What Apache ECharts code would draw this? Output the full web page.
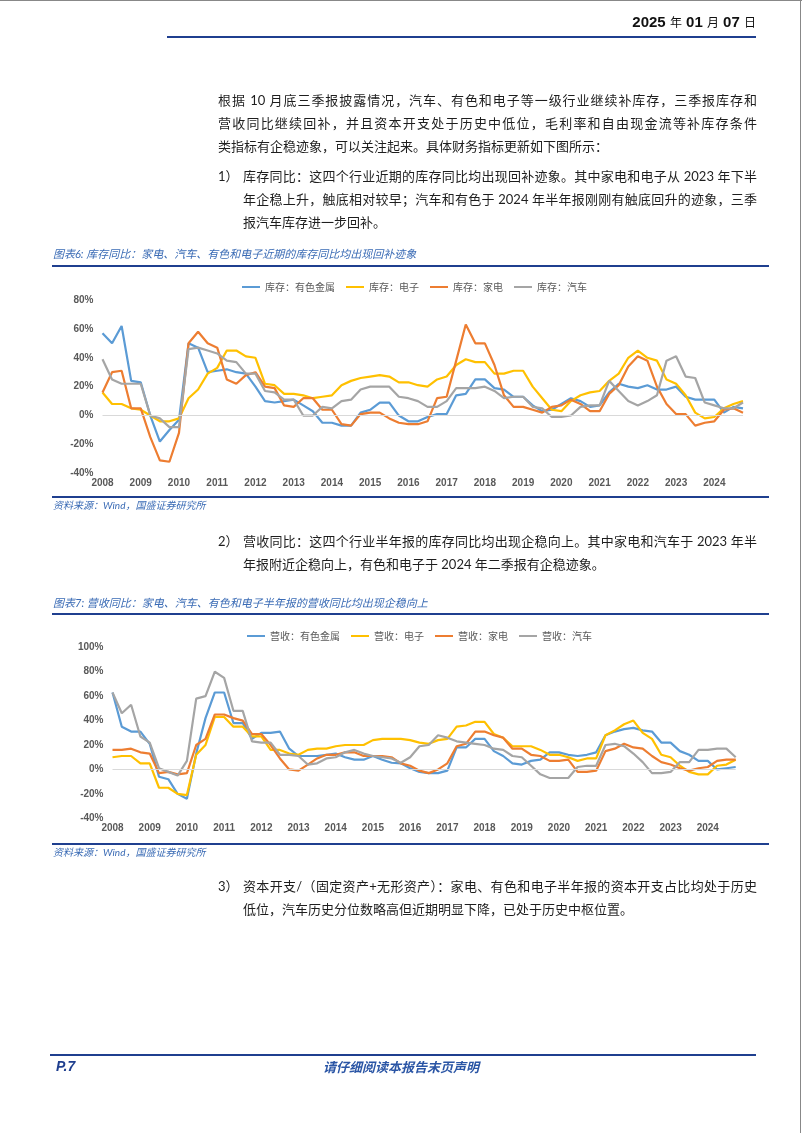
<!DOCTYPE html>
<html><head><meta charset="utf-8">
<script src="https://cdn.jsdelivr.net/npm/echarts@6/dist/echarts.min.js"></script>
<style>
html,body{margin:0;padding:0;background:#fff;}
#page{position:relative;width:802px;height:1133px;overflow:hidden;background:#fff;font-family:Lato,"Noto Sans CJK SC",sans-serif;}
#chart{position:absolute;left:0;top:0;width:802px;height:1133px;}
.a{position:absolute;white-space:nowrap;}
.bar{position:absolute;background:#1f3f8f;}
.p{position:absolute;font-size:13px;line-height:23px;height:23px;color:#1e1e1e;white-space:nowrap;}
.j{text-align:justify;text-align-last:justify;}
.cap{position:absolute;font-size:11px;line-height:14px;color:#3a6bb5;font-style:italic;white-space:nowrap;}
.src{position:absolute;font-size:10px;line-height:12px;color:#3a6bb5;font-style:italic;white-space:nowrap;}
</style></head>
<body>
<div id="page">
  <div id="chart"></div>
  <div class="a" style="left:0;top:0;width:802px;height:1px;background:#888"></div>
  <div class="a" style="left:800px;top:0;width:1px;height:1133px;background:#888"></div>

  <div class="a" style="right:46px;top:12px;font-size:15px;line-height:20px;font-weight:bold;color:#111;font-family:'Liberation Sans Narrow','Liberation Sans',sans-serif;">2025 <span style="font-weight:normal;font-size:12px;font-family:'Noto Sans CJK SC'">年</span> 01 <span style="font-weight:normal;font-size:12px;font-family:'Noto Sans CJK SC'">月</span> 07 <span style="font-weight:normal;font-size:12px;font-family:'Noto Sans CJK SC'">日</span></div>
  <div class="bar" style="left:167px;top:36px;width:589px;height:2px;"></div>

  <div class="p j" style="left:218px;top:88.5px;width:539px;">根据 10 月底三季报披露情况，汽车、有色和电子等一级行业继续补库存，三季报库存和</div>
  <div class="p j" style="left:218px;top:111.5px;width:539px;">营收同比继续回补，并且资本开支处于历史中低位，毛利率和自由现金流等补库存条件</div>
  <div class="p" style="left:218px;top:134.5px;">类指标有企稳迹象，可以关注起来。具体财务指标更新如下图所示：</div>

  <div class="p" style="left:218px;top:164.5px;">1）</div>
  <div class="p j" style="left:243px;top:164.5px;width:514px;">库存同比：这四个行业近期的库存同比均出现回补迹象。其中家电和电子从 2023 年下半</div>
  <div class="p j" style="left:243px;top:187.5px;width:514px;">年企稳上升，触底相对较早；汽车和有色于 2024 年半年报刚刚有触底回升的迹象，三季</div>
  <div class="p" style="left:243px;top:210.5px;">报汽车库存进一步回补。</div>

  <div class="cap" style="left:53px;top:247px;">图表6: 库存同比：家电、汽车、有色和电子近期的库存同比均出现回补迹象</div>
  <div class="bar" style="left:52px;top:265px;width:717px;height:2px;"></div>
  <div class="bar" style="left:52px;top:496px;width:717px;height:1.5px;"></div>
  <div class="src" style="left:53px;top:499px;">资料来源：Wind，国盛证券研究所</div>

  <div class="p" style="left:218px;top:529.5px;">2）</div>
  <div class="p j" style="left:243px;top:529.5px;width:514px;">营收同比：这四个行业半年报的库存同比均出现企稳向上。其中家电和汽车于 2023 年半</div>
  <div class="p" style="left:243px;top:552.5px;">年报附近企稳向上，有色和电子于 2024 年二季报有企稳迹象。</div>

  <div class="cap" style="left:53px;top:596px;">图表7: 营收同比：家电、汽车、有色和电子半年报的营收同比均出现企稳向上</div>
  <div class="bar" style="left:52px;top:613px;width:717px;height:2px;"></div>
  <div class="bar" style="left:52px;top:843px;width:717px;height:1.5px;"></div>
  <div class="src" style="left:53px;top:846px;">资料来源：Wind，国盛证券研究所</div>

  <div class="p" style="left:218px;top:874.5px;">3）</div>
  <div class="p j" style="left:243px;top:874.5px;width:514px;">资本开支/（固定资产+无形资产）：家电、有色和电子半年报的资本开支占比均处于历史</div>
  <div class="p" style="left:243px;top:897.5px;">低位，汽车历史分位数略高但近期明显下降，已处于历史中枢位置。</div>

  <div class="bar" style="left:50px;top:1054px;width:706px;height:2px;"></div>
  <div class="a" style="left:56px;top:1057px;font-size:14px;line-height:18px;font-weight:bold;font-style:italic;color:#1f3f8f;font-family:'Liberation Sans',sans-serif;">P.7</div>
  <div class="a" style="left:322px;top:1058px;width:158px;text-align:center;font-size:13px;line-height:17px;font-weight:bold;font-style:italic;color:#2a55a5;font-family:'Noto Sans CJK SC';">请仔细阅读本报告末页声明</div>
</div>
<script>
// ---- categories (quarterly, 2008Q1 .. 2024Q4) ----
const quarters = [];
for (let y = 2008; y <= 2024; y++) for (let q = 1; q <= 4; q++) quarters.push(y + 'Q' + q);

// ---- Chart 1: inventory YoY (%) ----
const invNames = ['库存：有色金属', '库存：电子', '库存：家电', '库存：汽车'];
const invMetal = [57,50,62,24, 23,0,-18,-10, -3,50,47,30, 31,32,30,29, 20,10,9,10, 11,7,3,-5, -5,-7,-7,2,
  4,9,9,0, -4,-4,-1,1, 1,14,15,25, 25,19,18,13, 13,7,3,4, 8,12,10,
  6,7,16,22, 20,19,21,18, 18,20,13,11, 11,11,2,6, 5];
const invElec = [16,8,8,5, 4,0,-4,-4, -2,12,18,29, 33,45,45,41, 40,22,21,15, 15,14,12,13, 14,21,24,26,
  27,28,27,23, 23,21,20,25, 27,35,39,37, 37,29,29,31, 31,20,12,4, 3,10,14,
  16,17,24,29, 40,45,40,38, 25,22,14,2, -2,-1,5,8, 10];
const invAppl = [16,30,31,5, 5,-15,-31,-32, -12,50,58,50, 47,25,22,28, 30,20,19,7, 6,12,12,4, 4,-6,-7,1,
  2,2,-2,-5, -6,-6,-4,12, 13,38,63,50, 50,35,14,6, 6,4,2,6, 7,11,8,
  3,3,15,21, 34,41,38,20, 8,1,1,-7, -5,-4,4,5, 2];
const invAuto = [39,25,22,22, 22,0,-2,-8, -8,46,47,45, 43,38,37,29, 29,17,16,11, 11,0,0,6, 5,10,11,18,
  20,20,20,13, 12,10,6,6, 10,19,19,19, 20,17,12,13, 13,6,5,-1, -1,0,6,
  7,7,24,17, 10,7,10,14, 38,41,27,26, 9,7,5,5, 9];

// ---- Chart 2: revenue YoY (%) ----
const revNames = ['营收：有色金属', '营收：电子', '营收：家电', '营收：汽车'];
const revMetal = [63,35,31,31, 21,-6,-8,-20, -24,13,42,63, 63,38,38,25, 30,30,31,17, 11,11,11,12, 13,10,8,
  8,11,8,5.5, 5,1,-2,-3, -3,-1,18,18, 25,25,15,11, 5,4,7,8, 14,14,12,11, 12,
  14,28,31,33, 34,32,31,22, 22,15,12,7, 7,0,1,2];
const revElec = [10,11,11,5, 5,-15,-15,-20, -21,12,20,43, 43,35,35,27, 27,16,16,13, 12,16,17,17, 19,20,20,
  20,24,25,25, 25,24,22,21, 24,25,35,36, 39,39,29,26, 19,19,19,16, 12,12,10,7, 9,
  9,28,32,37, 40,30,25,12, 10,3,-2,-4, -4,3,4,8];
const revAppl = [16,16,17,14, 13,-3,-2,-4, -3,20,25,45, 45,42,40,29, 29,20,9,0, -1,4,9,12, 12,14,14,
  11,11,11,10, 5,3,-1,-3, 0,5,19,21, 31,31,28,26, 17,17,12,11, 7,7,8,-2, -2,
  -1,15,17,21, 18,17,11,6, 4,1,-1,1, 2,7,8,8];
const revAuto = [63,46,53,27, 22,1,-2,-5, 7,58,60,80, 75,48,48,23, 22,22,12,12, 11,4,5,9, 10,14,16,
  13,11,10,9, 5.5,10,19,20, 28,26,23,22, 21,20,17,16, 11,10,3,-4, -7,-7,-7,2, 3,
  3,20,21,19, 13,6,-3,-3, -2,6,6,16, 16,17,17,10];

const colors = ['#5B9BD5', '#FFC000', '#ED7D31', '#A5A5A5'];
const axisFont = {fontFamily: 'Liberation Sans', fontWeight: 'bold', fontSize: 10, color: '#595959'};

function xAxisCfg(gi) {
  return {type: 'category', gridIndex: gi, data: quarters, boundaryGap: false,
    axisLine: {show: false}, axisTick: {show: false}, splitLine: {show: false},
    axisLabel: Object.assign({interval: 0, margin: 5, formatter: (v, i) => (i % 4 === 0 ? v.slice(0, 4) : '')}, axisFont)};
}
function yAxisCfg(gi, mn, mx) {
  return {type: 'value', gridIndex: gi, min: mn, max: mx, interval: 20,
    axisLine: {show: false}, axisTick: {show: false}, splitLine: {show: false},
    axisLabel: Object.assign({margin: 9, formatter: v => v + '%'}, axisFont)};
}
function mk(name, data, color, gi, zero) {
  const s = {name, type: 'line', data, xAxisIndex: gi, yAxisIndex: gi, showSymbol: false, symbol: 'none',
    lineStyle: {width: 2.2, color}, itemStyle: {color}, animation: false};
  if (zero) s.markLine = {silent: true, symbol: 'none', label: {show: false},
    lineStyle: {color: '#d9d9d9', width: 1, type: 'solid'}, data: [{yAxis: 0}]};
  return s;
}
const legendBase = {icon: 'rect', itemWidth: 18, itemHeight: 2, itemGap: 11, selectedMode: false,
  textStyle: {fontSize: 10, color: '#595959', fontFamily: 'Noto Sans CJK SC'}};

const chart = echarts.init(document.getElementById('chart'), null, {renderer: 'canvas'});
chart.setOption({
  animation: false,
  backgroundColor: 'transparent',
  grid: [
    {left: 102.5, top: 300, width: 640.5, height: 173.3, containLabel: false},
    {left: 112.5, top: 647.3, width: 623.2, height: 171, containLabel: false}
  ],
  legend: [
    Object.assign({data: invNames, left: 237, top: 277}, legendBase),
    Object.assign({data: revNames, left: 242, top: 626}, legendBase)
  ],
  xAxis: [xAxisCfg(0), xAxisCfg(1)],
  yAxis: [yAxisCfg(0, -40, 80), yAxisCfg(1, -40, 100)],
  series: [
    mk(invNames[0], invMetal, colors[0], 0, true),
    mk(invNames[1], invElec, colors[1], 0),
    mk(invNames[2], invAppl, colors[2], 0),
    mk(invNames[3], invAuto, colors[3], 0),
    mk(revNames[0], revMetal, colors[0], 1, true),
    mk(revNames[1], revElec, colors[1], 1),
    mk(revNames[2], revAppl, colors[2], 1),
    mk(revNames[3], revAuto, colors[3], 1)
  ]
});
</script>
</body></html>
